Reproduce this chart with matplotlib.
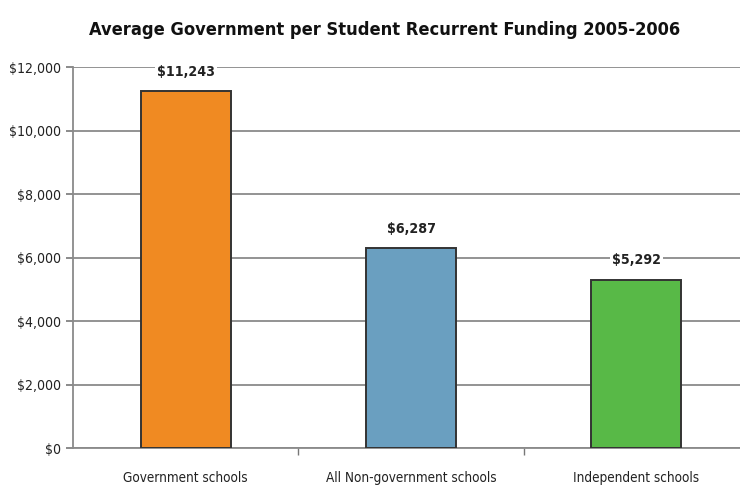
import matplotlib
matplotlib.use("Agg")
import matplotlib.pyplot as plt
from matplotlib import font_manager
from matplotlib.font_manager import FontProperties

categories = ["Government schools", "All Non-government schools", "Independent schools"]
values = [11243, 6287, 5292]
value_labels = ["$11,243", "$6,287", "$5,292"]
y_ticks = [0, 2000, 4000, 6000, 8000, 10000, 12000]
y_tick_labels = ["$0", "$2,000", "$4,000", "$6,000", "$8,000", "$10,000", "$12,000"]
colors = ["#F08A22", "#6A9FC0", "#58B947"]


def pick_font(bold):
    """Prefer a narrow / condensed face; fall back to DejaVu Sans."""
    best = None
    for f in font_manager.fontManager.ttflist:
        key = (f.name + " " + f.fname).lower()
        if not ("condensed" in key or "narrow" in key):
            continue
        if "oblique" in key or "italic" in key:
            continue
        is_bold = f.weight in ("bold", 700) or "bold" in key
        if is_bold != bold:
            continue
        if "semi" in key or "extra" in key or "light" in key:
            continue
        best = f.fname
        if "dejavu" in key:
            break
    if best:
        return FontProperties(fname=best)
    return FontProperties(family="DejaVu Sans", weight="bold" if bold else "normal")


fp_reg = pick_font(False)
fp_bold = pick_font(True)

fig = plt.figure(figsize=(7.40, 4.86), dpi=100)
renderer = fig.canvas.get_renderer()


def size_for(s, fp, width_px):
    """Font size at which the string spans the given width in pixels."""
    t = fig.text(0, 0, s, fontproperties=fp, fontsize=10)
    w = t.get_window_extent(renderer).width
    t.remove()
    return 10 * width_px / w


val_size = size_for("$11,243", fp_bold, 58)
ytick_size = size_for("$12,000", fp_reg, 52)
cat_size = size_for("Government schools", fp_reg, 125)
title_size = size_for("Average Government per Student Recurrent Funding 2005-2006", fp_bold, 588)

ax = fig.add_axes([73 / 740, 1 - 448 / 486, 1 - 73 / 740, (448 - 67) / 486])

x = list(range(len(categories)))
ax.bar(x, values, width=0.4, color=colors, edgecolor="#333333", linewidth=1.4, zorder=3)

for xi, v, lab in zip(x, values, value_labels):
    ax.annotate(lab, (xi, v), xytext=(0, 9), textcoords="offset points",
                ha="center", va="bottom", fontproperties=fp_bold, fontsize=val_size,
                color="#222222", zorder=4,
                bbox=dict(boxstyle="square,pad=0.15", fc="white", ec="none"))

ax.set_ylim(0, 12000)
ax.set_xlim(-0.5, 2.46)
ax.set_yticks(y_ticks)
ax.set_yticklabels(y_tick_labels, fontproperties=fp_reg, fontsize=ytick_size,
                   color="#222222")

ax.set_xticks([0.5, 1.5])
ax.set_xticklabels([])
ax.tick_params(axis="y", length=5, width=1.2, color="#777777", pad=4)
ax.tick_params(axis="x", length=5, width=1.0, color="#777777")

for xi, cat in zip(x, categories):
    ax.text(xi, -0.078, cat, transform=ax.get_xaxis_transform(), ha="center",
            va="center", fontproperties=fp_reg, fontsize=cat_size, color="#222222")

ax.yaxis.grid(True, color="#8a8a8a", linewidth=1.3, zorder=0)
ax.set_axisbelow(True)
for s in ["top", "right"]:
    ax.spines[s].set_visible(False)
for s in ["left", "bottom"]:
    ax.spines[s].set_color("#8a8a8a")
    ax.spines[s].set_linewidth(1.3)

fig.text(385 / 740, 1 - 30 / 486,
         "Average Government per Student Recurrent Funding 2005-2006",
         ha="center", va="center", fontproperties=fp_bold, fontsize=title_size,
         color="#111111")

fig.savefig("out.png", dpi=100)
